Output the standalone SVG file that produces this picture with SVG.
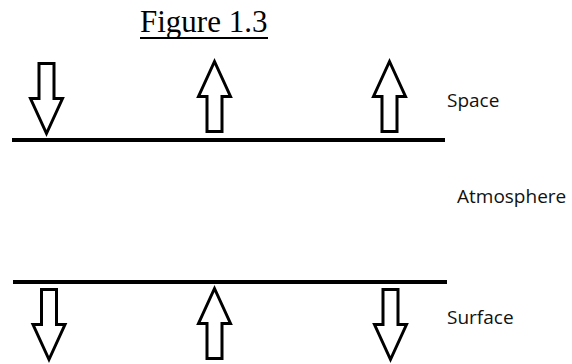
<svg xmlns="http://www.w3.org/2000/svg" xmlns:xlink="http://www.w3.org/1999/xlink" width="572" height="364" viewBox="0 0 572 364">
  <style>
    .title { font-family: "Liberation Serif", "Times New Roman", serif; font-size: 31px; fill: #000; }
    .label { font-family: "Open Sans", "Noto Sans", sans-serif; font-size: 19px; fill: #111; }
    .boundary { stroke: #000; stroke-width: 4; fill: none; }
    .arrow { fill: #fff; stroke: #000; stroke-width: 3; stroke-linejoin: miter; stroke-miterlimit: 10; }
  </style>
  <defs>
    <!-- block arrow pointing down; origin at top centre of the shaft -->
    <polygon id="blockArrow" class="arrow" points="-7.5,0 7.5,0 7.5,35 16,35 0,70 -16,35 -7.5,35"/>
  </defs>
  <rect width="572" height="364" fill="#fff"/>

  <g id="title">
    <text class="title" x="140" y="32">Figure 1.3</text>
    <line x1="140" y1="38" x2="268" y2="38" stroke="#000" stroke-width="2"/>
  </g>

  <g id="boundaries">
    <line class="boundary" x1="12" y1="140" x2="445" y2="140"/>
    <line class="boundary" x1="13" y1="282" x2="447" y2="282"/>
  </g>

  <g id="labels">
    <text class="label" x="447" y="107">Space</text>
    <text class="label" x="457" y="203">Atmosphere</text>
    <text class="label" x="447" y="324">Surface</text>
  </g>

  <g id="arrows">
    <!-- top of atmosphere -->
    <use xlink:href="#blockArrow" transform="translate(46.5,63.5)"/>
    <use xlink:href="#blockArrow" transform="translate(214.5,131.5) scale(1,-1)"/>
    <use xlink:href="#blockArrow" transform="translate(389.5,131.5) scale(1,-1)"/>
    <!-- surface -->
    <use xlink:href="#blockArrow" transform="translate(49,289.5)"/>
    <use xlink:href="#blockArrow" transform="translate(214.5,358.5) scale(1,-1)"/>
    <use xlink:href="#blockArrow" transform="translate(390.5,289.5)"/>
  </g>
</svg>
